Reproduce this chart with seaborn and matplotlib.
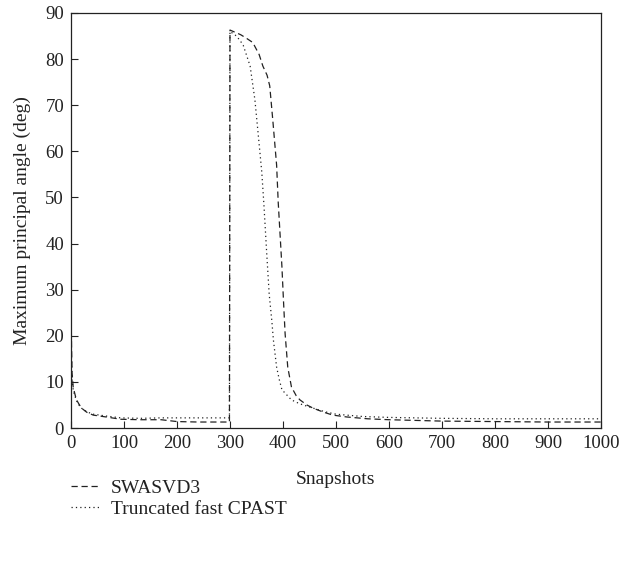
import numpy as np
import pandas as pd
import matplotlib
matplotlib.use("Agg")
import matplotlib.pyplot as plt
import seaborn as sns
from matplotlib.lines import Line2D

# Snapshot index and maximum principal angle (deg) for each tracker
swasvd3_x = [0, 1, 2, 4, 6, 10, 15, 20, 30, 42, 66, 94, 130, 170, 200, 240, 299,
             300, 310, 320, 330, 343, 355, 362, 370, 375, 381, 388, 391, 395, 398,
             401, 404, 409, 416, 425, 432, 445, 457, 475, 494, 520, 560, 600,
             700, 800, 900, 1000]
swasvd3_y = [27.5, 18, 12, 9, 8, 6.2, 5.2, 4.3, 3.4, 2.8, 2.4, 1.9, 1.8, 1.8, 1.4, 1.3, 1.3,
             86.3, 85.8, 85.3, 84.6, 83.6, 81, 78.5, 76.5, 74.2, 66.5, 57, 49, 41, 35,
             27.5, 20.5, 13.2, 8.9, 7.0, 6.1, 5.0, 4.3, 3.5, 2.8, 2.4, 2.0, 1.8,
             1.5, 1.4, 1.3, 1.3]

cpast_x = [0, 1, 2, 4, 6, 10, 15, 20, 30, 42, 66, 94, 130, 170, 200, 240, 299,
           300, 310, 318, 325, 338, 347, 353, 360, 364, 369, 374, 379, 382, 388,
           393, 398, 407, 416, 427, 438, 460, 480, 500, 550, 600,
           700, 800, 900, 1000]
cpast_y = [20, 14, 10.5, 8.5, 7.5, 6.0, 5.0, 4.3, 3.5, 3.0, 2.6, 2.2, 2.1, 2.2, 2.2, 2.2, 2.2,
           86.0, 85.2, 84.2, 83, 78.5, 71.2, 64, 55.5, 48.5, 38.5, 29, 23.2, 19, 13.2,
           10.5, 8.3, 7.2, 6.1, 5.5, 5.0, 4.2, 3.5, 3.0, 2.5, 2.3,
           2.1, 2.0, 2.0, 2.0]

labels = ["SWASVD3", "Truncated fast CPAST"]

df = pd.concat([
    pd.DataFrame({"Snapshots": swasvd3_x, "angle": swasvd3_y, "method": labels[0]}),
    pd.DataFrame({"Snapshots": cpast_x, "angle": cpast_y, "method": labels[1]}),
], ignore_index=True)

sns.set_style("ticks")
plt.rcParams["font.family"] = ["Liberation Serif", "DejaVu Serif"]
plt.rcParams["xtick.direction"] = "in"
plt.rcParams["ytick.direction"] = "in"

ink = "#222222"
dash_styles = {labels[0]: (5, 3), labels[1]: (1, 2.5)}

fig = plt.figure(figsize=(6.26, 5.62), dpi=100)
ax = fig.add_axes([0.1134, 0.2384, 0.8466, 0.7385])

sns.lineplot(data=df, x="Snapshots", y="angle", hue="method", style="method",
             palette={labels[0]: ink, labels[1]: ink},
             dashes=dash_styles,
             estimator=None, sort=False, linewidth=0.9, ax=ax, legend=False)

ax.set_xlim(0, 1000)
ax.set_ylim(0, 90)
ax.set_xticks(np.arange(0, 1001, 100))
ax.set_yticks(np.arange(0, 91, 10))
ax.tick_params(labelsize=13.5, length=5, width=0.8, colors=ink, pad=5,
               top=False, right=False)
for s in ax.spines.values():
    s.set_linewidth(0.9)
    s.set_color(ink)
ax.set_xlabel("Snapshots", fontsize=14, color=ink, labelpad=14)
ax.set_ylabel("Maximum principal angle (deg)", fontsize=14, color=ink, labelpad=10)

handles = [Line2D([], [], color=ink, lw=0.9, dashes=dash_styles[l]) for l in labels]
fig.legend(handles, labels, loc="upper left", bbox_to_anchor=(0.086, 0.178),
           frameon=False, fontsize=14, handlelength=1.45, handletextpad=0.6,
           labelspacing=0.15, labelcolor=ink)

fig.savefig("out.png", dpi=100)
